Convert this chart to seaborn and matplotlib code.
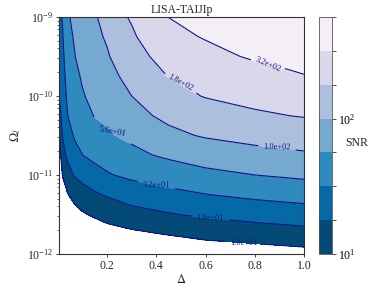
import numpy as np
import seaborn as sns
import matplotlib
matplotlib.use('Agg')
import matplotlib.pyplot as plt
from matplotlib.colors import LogNorm
from matplotlib.ticker import FixedLocator, NullFormatter, LogLocator

# Daten
delta = [0.005, 0.01, 0.02, 0.04, 0.07, 0.1, 0.15, 0.2, 0.3, 0.45, 0.6, 0.8, 1.0]
omega_exp = [-9.0, -9.25, -9.5, -9.75, -10.0, -10.25, -10.5,
             -10.75, -11.0, -11.25, -11.5, -11.75, -12.0]
# SNR: eine Zeile pro Omega, eine Spalte pro Delta
snr = [
    [25.1, 28.2, 33.5, 53.0, 63.4, 73.6, 94.4, 120, 190, 318, 380, 484, 553],
    [23.2, 25.6, 30.7, 47.9, 59.6, 69.0, 85.5, 107, 164, 263, 329, 403, 465],
    [21.3, 23.3, 27.7, 43.0, 55.9, 63.8, 77.0, 95.0, 139, 218, 271, 335, 380],
    [19.6, 21.1, 25.1, 38.9, 49.5, 59.6, 70.0, 82.3, 118, 181, 223, 269, 311],
    [18.1, 19.2, 22.7, 35.0, 43.7, 54.3, 63.3, 71.6, 100, 145, 183, 213, 239],
    [12.9, 16.8, 20.4, 31.3, 38.5, 45.2, 57.5, 62.3, 79.9, 115, 140, 165, 183],
    [8.5, 12.3, 18.5, 25.0, 34.0, 37.8, 46.7, 52.4, 63.8, 87.6, 105, 120, 133],
    [6.0, 8.9, 14.5, 19.9, 27.0, 31.4, 36.5, 40.0, 49.1, 61.4, 73.3, 84.6, 93.3],
    [5.0, 6.3, 10.5, 14.5, 18.8, 21.3, 26.2, 30.2, 35.5, 41.7, 49.0, 56.2, 62.4],
    [4.2, 5.0, 7.1, 9.7, 12.4, 14.3, 16.4, 18.7, 23.3, 27.5, 31.1, 35.7, 39.6],
    [3.5, 4.2, 5.0, 6.3, 8.2, 9.4, 10.8, 12.3, 14.5, 17.1, 19.5, 22.0, 24.3],
    [3.0, 3.5, 4.0, 4.5, 5.6, 6.5, 7.1, 7.9, 8.9, 10.2, 11.7, 13.0, 14.4],
    [2.5, 3.0, 3.3, 3.3, 4.2, 4.7, 5.0, 5.6, 6.0, 6.3, 6.9, 7.5, 8.2],
]
levels = np.logspace(1, 2.75, 8)
y_ticks = [1e-12, 1e-11, 1e-10, 1e-9]

# Positionen der Konturbeschriftungen (Delta, Omega)
label_pos = [(0.83, 10**-9.70), (0.49, 10**-9.87), (0.89, 10**-10.66),
             (0.22, 10**-10.53), (0.40, 10**-11.15), (0.62, 10**-11.56),
             (0.755, 10**-11.87)]

sns.set_style('ticks')
plt.rcParams['font.family'] = ['Liberation Serif', 'DejaVu Serif']
plt.rcParams['mathtext.fontset'] = 'stix'
plt.rcParams['axes.edgecolor'] = '#333333'
plt.rcParams['axes.linewidth'] = 0.8

omega = 10.0 ** np.array(omega_exp)

fig = plt.figure(figsize=(3.82, 2.96), dpi=100)
ax = fig.add_axes([59 / 382, 42 / 296, 245 / 382, 237 / 296])
cax = fig.add_axes([319 / 382, 42 / 296, 13 / 382, 237 / 296])

cmap = sns.color_palette('PuBu_r', as_cmap=True)
norm = LogNorm(vmin=levels[0], vmax=levels[-1])
cs = ax.contourf(delta, omega, snr, levels=levels, cmap=cmap, norm=norm)
cl = ax.contour(delta, omega, snr, levels=levels[:-1], colors='#10108a', linewidths=0.8)
ax.clabel(cl, fmt='%.1e', fontsize=6, manual=label_pos, inline=True)

ax.set_yscale('log')
ax.set_xlim(0.005, 1.0)
ax.set_ylim(1e-12, 1e-9)
ax.set_xticks([0.2, 0.4, 0.6, 0.8, 1.0])
ax.yaxis.set_major_locator(FixedLocator(y_ticks))
ax.yaxis.set_minor_locator(LogLocator(base=10, subs=np.arange(2, 10)))
ax.yaxis.set_minor_formatter(NullFormatter())
ax.tick_params(labelsize=8.5, length=2.5, width=0.6, pad=1.5, direction='out')
ax.tick_params(which='minor', length=1.5, width=0.5)
ax.set_title('LISA-TAIJIp', fontsize=8.5, pad=3)
ax.set_xlabel(r'$\Delta$', fontsize=9, labelpad=1)
ax.set_ylabel(r'$\Omega_l$', fontsize=9, labelpad=3)

cb = fig.colorbar(cs, cax=cax)
cb.outline.set_edgecolor('#555555')
cb.outline.set_linewidth(0.6)
cb.ax.yaxis.set_minor_locator(FixedLocator([v for v in levels if v not in (10, 100)]))
cb.ax.yaxis.set_minor_formatter(NullFormatter())
cb.ax.tick_params(labelsize=8.5, length=3, width=0.6, pad=1.5, colors='#333333', labelcolor='black')
cb.ax.tick_params(which='minor', length=2, width=0.5)
cb.ax.set_ylabel('SNR', rotation=0, fontsize=8.5, va='center', ha='left')
cb.ax.yaxis.set_label_coords(2.0, 0.47)

fig.savefig('out.png', dpi=100)
